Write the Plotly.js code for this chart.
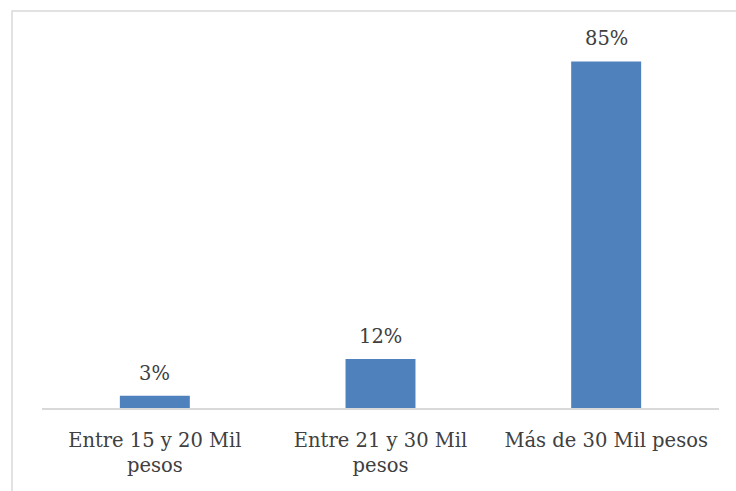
<!DOCTYPE html>
<html><head><meta charset="utf-8">
<script src="https://cdn.plot.ly/plotly-3.0.1.min.js"></script>
<style>html,body{margin:0;padding:0;background:#fff;}</style>
</head><body>
<div id="chart" style="width:736px;height:491px;"></div>
<script>
const categories = ["Entre 15 y 20 Mil<br>pesos", "Entre 21 y 30 Mil<br>pesos", "Más de 30 Mil pesos"];
const values = [0.03, 0.12, 0.85];
const labels = ["3%", "12%", "85%"];

const fontFam = "DejaVu Serif, Liberation Serif, serif";
const trace = {
  type: "bar",
  x: categories,
  y: values,
  marker: {color: "#4F81BD"},
  hoverinfo: "none"
};
const annotations = categories.map((c, i) => ({
  x: c, y: values[i], xref: "x", yref: "y", text: labels[i],
  showarrow: false, yanchor: "bottom", yshift: 9,
  font: {family: fontFam, size: 19.5, color: "#404040"}
}));
const layout = {
  width: 736, height: 491,
  margin: {l: 42, r: 17, t: 41, b: 83},
  paper_bgcolor: "#fff", plot_bgcolor: "#fff",
  showlegend: false,
  bargap: 0.69,
  font: {family: fontFam, size: 19.5, color: "#404040"},
  xaxis: {
    showline: true, linecolor: "#d9d9d9", linewidth: 1.5,
    ticks: "", ticklabelstandoff: 14,
    tickfont: {family: fontFam, size: 19.5, color: "#404040"},
    showgrid: false, zeroline: false, fixedrange: true
  },
  yaxis: {
    range: [0, 0.9], visible: false, showgrid: false, zeroline: false, fixedrange: true
  },
  annotations: annotations,
  shapes: [{
    type: "rect", xref: "paper", yref: "paper",
    x0: -0.0443, x1: 1.2, y0: -0.5, y1: 1.0817,
    line: {color: "#d9d9d9", width: 1.5}, fillcolor: "rgba(0,0,0,0)", layer: "below"
  }]
};
Plotly.newPlot("chart", [trace], layout, {displayModeBar: false, staticPlot: true});
</script>
</body></html>
